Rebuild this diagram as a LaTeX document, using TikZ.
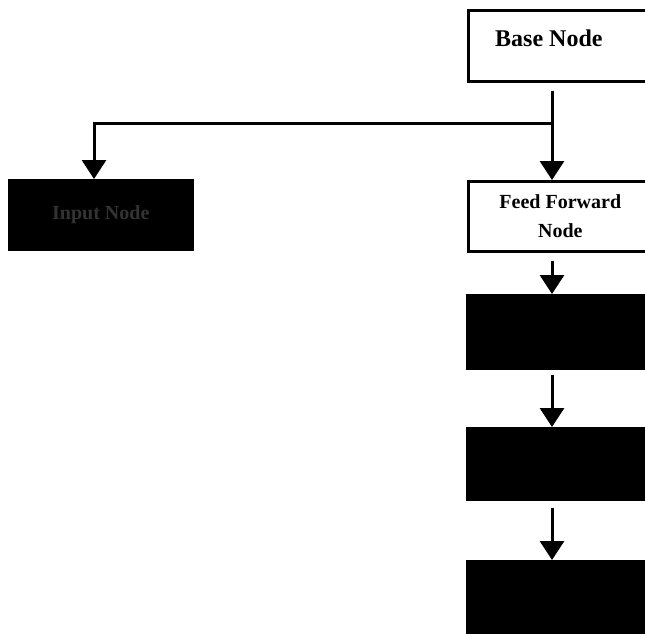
\documentclass[tikz,border=0pt]{standalone}
\usepackage{fontspec}
\setmainfont{Liberation Serif}
\usetikzlibrary{arrows.meta}
\tikzset{
  box/.style={draw=black, line width=2.6pt, fill=white, minimum width=184pt, inner sep=0pt, anchor=north west},
  darkbox/.style={box, fill=black},
  arr/.style={line width=3pt, line join=miter, -{Triangle[width=24pt,length=19pt]}},
}
\begin{document}
\begin{tikzpicture}[x=1pt,y=-1pt]
\useasboundingbox (0,0) rectangle (645,633);
% boxes
\node[box, minimum height=71pt] (base) at (467,9) {};
\node[anchor=west, font=\fontsize{24}{26}\selectfont\bfseries, inner sep=0pt] (basetxt) at (495,38) {Base Node};
\node[box, minimum height=70pt, align=center, font=\fontsize{20}{29}\selectfont\bfseries] (ff) at (467,180) {Feed Forward\\Node};
\node[darkbox, minimum height=73pt] (d2) at (466,294) {};
\node[darkbox, minimum height=71pt] (d3) at (466,427) {};
\node[darkbox, minimum height=80pt] (d4) at (466,560) {};
\node[darkbox, minimum height=69pt, minimum width=183pt, text=black!80, font=\fontsize{20}{24}\selectfont\bfseries] (inp) at (8,179) {Input Node};
% axes for connectors
\coordinate (ax) at (552,0);
\coordinate (lx) at (94,0);
\coordinate (j) at (552,123);
% connectors
\draw[arr] ([yshift=-8pt]base.south -| ax) -- (ff.north -| ax);
\draw[arr] (j) -| (inp.north -| lx);
\draw[arr] ([yshift=-8pt]ff.south -| ax) -- (d2.north -| ax);
\draw[arr] ([yshift=-5pt]d2.south -| ax) -- (d3.north -| ax);
\draw[arr] ([yshift=-7pt]d3.south -| ax) -- (d4.north -| ax);
\end{tikzpicture}
\end{document}
